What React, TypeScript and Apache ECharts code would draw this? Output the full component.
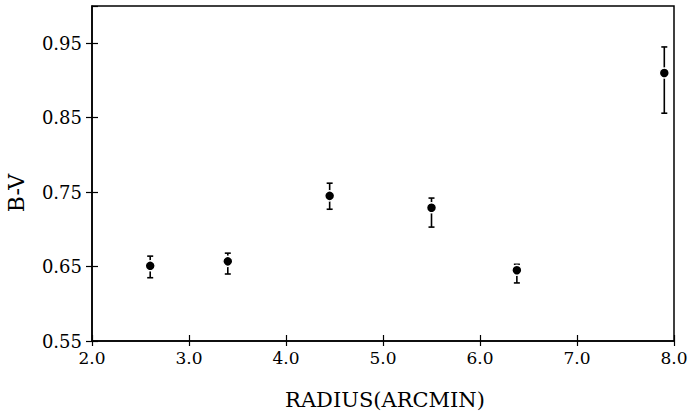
import React, { useEffect, useRef } from "react";
import * as echarts from "echarts";

const radius = [2.6, 3.4, 4.45, 5.5, 6.38, 7.9];
const bv = [0.651, 0.657, 0.745, 0.729, 0.645, 0.91];
const bvHigh = [0.664, 0.668, 0.762, 0.742, 0.653, 0.945];
const bvLow = [0.635, 0.64, 0.727, 0.703, 0.628, 0.856];
const xTitle = "RADIUS(ARCMIN)";
const yTitle = "B-V";

const FONT = "DejaVu Serif";

export default function App() {
  const ref = useRef<HTMLDivElement>(null);
  useEffect(() => {
    if (!ref.current) return;
    const chart = echarts.init(ref.current, null, { renderer: "svg" });
    const points = radius.map((x, i) => [x, bv[i]]);
    const bars = radius.map((x, i) => [x, bvLow[i], bvHigh[i]]);
    const axisCommon = {
      axisLine: { show: true, lineStyle: { color: "#000", width: 1.5 } },
      splitLine: { show: false },
    };
    chart.setOption({
      animation: false,
      backgroundColor: "#fff",
      grid: {
        left: 92,
        right: 18,
        top: 6,
        bottom: 79,
        show: true,
        borderColor: "#000",
        borderWidth: 1.5,
      },
      xAxis: [
        {
          type: "value",
          min: 2,
          max: 8,
          interval: 1,
          ...axisCommon,
          axisTick: { show: true, inside: false, length: 5, lineStyle: { color: "#000", width: 1.2 } },
          axisLabel: {
            margin: 8,
            color: "#000",
            fontFamily: FONT,
            fontSize: 17,
            formatter: (v: number) => v.toFixed(1),
          },
        },
        {
          type: "value",
          min: 2,
          max: 8,
          interval: 1,
          position: "bottom",
          axisLine: { show: false },
          splitLine: { show: false },
          axisTick: { show: true, inside: true, length: 6, lineStyle: { color: "#000", width: 1.2 } },
          axisLabel: { show: false },
        },
      ],
      yAxis: [
        {
          type: "value",
          min: 0.55,
          max: 1.0,
          interval: 0.1,
          ...axisCommon,
          axisTick: { show: true, inside: false, length: 6, lineStyle: { color: "#000", width: 1.2 } },
          axisLabel: {
            margin: 10,
            color: "#000",
            fontFamily: FONT,
            fontSize: 18,
            showMaxLabel: false,
            formatter: (v: number) => (v > 0.97 ? "" : v.toFixed(2)),
          },
        },
        {
          type: "value",
          min: 0.55,
          max: 1.0,
          interval: 0.1,
          position: "left",
          axisLine: { show: false },
          splitLine: { show: false },
          axisTick: { show: true, inside: true, length: 6, lineStyle: { color: "#000", width: 1.2 } },
          axisLabel: { show: false },
        },
      ],
      graphic: [
        {
          type: "text",
          x: 385,
          y: 400,
          style: {
            text: xTitle,
            fontFamily: FONT,
            fontSize: 21,
            fill: "#000",
            align: "center",
            verticalAlign: "middle",
          },
        },
        {
          type: "text",
          x: 16,
          y: 193,
          rotation: Math.PI / 2,
          style: {
            text: yTitle,
            fontFamily: FONT,
            fontSize: 22,
            fill: "#000",
            align: "center",
            verticalAlign: "middle",
          },
        },
      ],
      series: [
        {
          type: "custom",
          xAxisIndex: 0,
          yAxisIndex: 0,
          data: bars,
          renderItem: (params: any, api: any) => {
            const x = api.value(0);
            const pLo = api.coord([x, api.value(1)]);
            const pHi = api.coord([x, api.value(2)]);
            const w = 3;
            const st = { stroke: "#000", lineWidth: 1.6 };
            return {
              type: "group",
              children: [
                { type: "line", shape: { x1: pHi[0], y1: pHi[1], x2: pLo[0], y2: pLo[1] }, style: st },
                { type: "line", shape: { x1: pHi[0] - w, y1: pHi[1], x2: pHi[0] + w, y2: pHi[1] }, style: st },
                { type: "line", shape: { x1: pLo[0] - w, y1: pLo[1], x2: pLo[0] + w, y2: pLo[1] }, style: st },
              ],
            };
          },
          z: 2,
        },
        {
          type: "scatter",
          xAxisIndex: 0,
          yAxisIndex: 0,
          data: points,
          symbol: "circle",
          symbolSize: 10,
          itemStyle: { color: "#000", borderColor: "#fff", borderWidth: 1.5, opacity: 1 },
          z: 3,
        },
      ],
    });
    return () => chart.dispose();
  }, []);
  return (
    <div
      ref={ref}
      style={{ position: "fixed", left: 0, top: 0, width: 692, height: 420, background: "#fff" }}
    />
  );
}
